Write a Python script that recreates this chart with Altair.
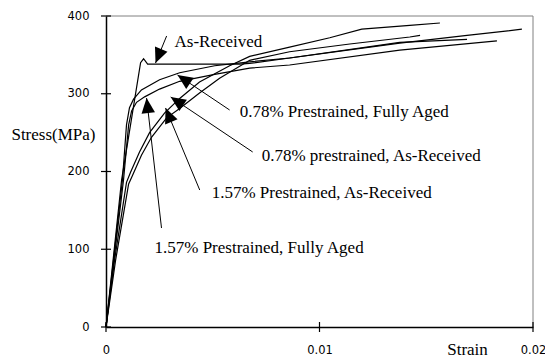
import math

import altair as alt
import pandas as pd

# ---- Stress-strain curves (strain, stress in MPa) ----
as_received_strain = [0, 0.00073, 0.00162, 0.00176, 0.00195, 0.00626, 0.00673, 0.0086, 0.01376, 0.01691]
as_received_stress = [0, 189, 340, 345, 338, 338, 339, 346, 366, 370]

pre078_aged_strain = [0, 0.00077, 0.00096, 0.0011, 0.00129, 0.00166, 0.00251, 0.00345, 0.00509, 0.00673, 0.0086, 0.01376, 0.01691, 0.01948]
pre078_aged_stress = [0, 189, 260, 282, 293, 305, 318, 327, 336, 341, 346, 365, 375, 383]

pre157_aged_strain = [0, 0.00082, 0.00106, 0.0012, 0.00143, 0.00181, 0.00251, 0.00345, 0.00509, 0.00673, 0.0086, 0.01376, 0.01831]
pre157_aged_stress = [0, 189, 260, 278, 289, 296, 306, 316, 325, 333, 337, 356, 368]

pre157_recv_strain = [0, 0.0004, 0.00096, 0.00115, 0.00157, 0.00204, 0.00274, 0.00345, 0.00438, 0.00579, 0.00673, 0.0086, 0.01048, 0.01198, 0.01423, 0.01564]
pre157_recv_stress = [0, 86, 186, 199, 225, 250, 275, 294, 315, 336, 348, 360, 372, 383, 388, 391]

pre078_recv_strain = [0, 0.00045, 0.00106, 0.00124, 0.00166, 0.00213, 0.00284, 0.00345, 0.00438, 0.00532, 0.00673, 0.0086, 0.01142, 0.01423, 0.01471]
pre078_recv_stress = [0, 86, 184, 195, 221, 244, 269, 281, 301, 320, 343, 354, 364, 373, 375]

curves = {
    "As-Received": (as_received_strain, as_received_stress),
    "0.78% Prestrained, Fully Aged": (pre078_aged_strain, pre078_aged_stress),
    "1.57% Prestrained, Fully Aged": (pre157_aged_strain, pre157_aged_stress),
    "1.57% Prestrained, As-Received": (pre157_recv_strain, pre157_recv_stress),
    "0.78% prestrained, As-Received": (pre078_recv_strain, pre078_recv_stress),
}

# ---- Callout labels and their arrows (data units) ----
label_text = [
    "As-Received",
    "0.78% Prestrained, Fully Aged",
    "0.78% prestrained, As-Received",
    "1.57% Prestrained, As-Received",
    "1.57% Prestrained, Fully Aged",
]
label_strain = [0.00321, 0.00626, 0.00729, 0.00495, 0.00227]
label_stress = [366.6, 276.5, 219.9, 172.4, 101.6]

arrow_tail_strain = [0.00284, 0.00579, 0.00687, 0.00439, 0.00260]
arrow_tail_stress = [374.3, 279.1, 225.1, 176.2, 127.3]
arrow_tip_strain = [0.00232, 0.00335, 0.00303, 0.00279, 0.00190]
arrow_tip_stress = [339.5, 324.1, 295.8, 281.7, 294.5]

x_tick_values = [0, 0.01, 0.02]
y_tick_values = [0, 100, 200, 300, 400]

# ---- Layout ----
W, H = 427, 311
X_MAX, Y_MAX = 0.02, 400
TICK_HALF = 5
SERIF = "Liberation Serif"
SANS = "DejaVu Sans"

rows = []
for name, (strain, stress) in curves.items():
    for i, (e, s) in enumerate(zip(strain, stress)):
        rows.append({"curve": name, "order": i, "strain": e, "stress": s})
curve_df = pd.DataFrame(rows)

# arrowhead rotation computed in screen space (0 deg = pointing up, clockwise)
angles = []
for tx, ty, hx, hy in zip(arrow_tail_strain, arrow_tail_stress, arrow_tip_strain, arrow_tip_stress):
    dx = (hx - tx) / X_MAX * W
    dy = -(hy - ty) / Y_MAX * H
    angles.append(math.degrees(math.atan2(dx, -dy)) % 360)

arrow_df = pd.DataFrame({
    "label": label_text,
    "strain": arrow_tail_strain,
    "stress": arrow_tail_stress,
    "tip_strain": arrow_tip_strain,
    "tip_stress": arrow_tip_stress,
    "angle": angles,
})
label_df = pd.DataFrame({"label": label_text, "strain": label_strain, "stress": label_stress})

x_scale = alt.Scale(domain=[0, X_MAX], nice=False)
y_scale = alt.Scale(domain=[0, Y_MAX], nice=False)

x_axis = alt.Axis(
    values=x_tick_values,
    labelExpr="datum.value == 0 ? '0' : format(datum.value, '.2f')",
    title="Strain",
    ticks=False, tickSize=0, grid=False,
    domainColor="black", domainWidth=1.5,
    labelFont=SANS, labelFontSize=11.5, labelColor="black",
    labelPadding=23, labelBaseline="middle", labelFlush=False,
    titleFont=SERIF, titleFontSize=17, titleFontWeight="normal", titleColor="black",
    titleX=361, titleY=22, titleAlign="center", titleBaseline="middle",
    zindex=1,
)
y_axis = alt.Axis(
    values=y_tick_values,
    title="Stress(MPa)",
    ticks=False, tickSize=0, grid=False,
    domainColor="black", domainWidth=1.5,
    labelFont=SANS, labelFontSize=11.5, labelColor="black",
    labelPadding=17,
    titleFont=SERIF, titleFontSize=17, titleFontWeight="normal", titleColor="black",
    titleAngle=0, titleX=-11, titleY=118, titleAlign="right", titleBaseline="middle",
    zindex=1,
)


def xenc(field):
    return alt.X(field, type="quantitative", scale=x_scale, axis=x_axis)


def yenc(field):
    return alt.Y(field, type="quantitative", scale=y_scale, axis=y_axis)


lines = alt.Chart(curve_df).mark_line(color="black", strokeWidth=1.2).encode(
    x=xenc("strain"),
    y=yenc("stress"),
    detail="curve:N",
    order="order:Q",
)

# gray frame on the top and right sides
one = pd.DataFrame({"k": [0]})
top_border = alt.Chart(one).mark_rule(color="#808080", strokeWidth=1).encode(
    x=alt.X(datum=0, type="quantitative", scale=x_scale, axis=x_axis),
    x2=alt.X2(datum=X_MAX),
    y=alt.Y(datum=Y_MAX, type="quantitative", scale=y_scale, axis=y_axis),
)
right_border = alt.Chart(one).mark_rule(color="#808080", strokeWidth=1).encode(
    x=alt.X(datum=X_MAX, type="quantitative", scale=x_scale, axis=x_axis),
    y=alt.Y(datum=0, type="quantitative", scale=y_scale, axis=y_axis),
    y2=alt.Y2(datum=Y_MAX),
)

# tick marks that cross the axis lines
y_ticks = alt.Chart(pd.DataFrame({"stress": y_tick_values})).mark_rule(color="black", strokeWidth=1.2).encode(
    y=yenc("stress"),
    x=alt.value(-TICK_HALF), x2=alt.value(TICK_HALF),
)
x_ticks = alt.Chart(pd.DataFrame({"strain": x_tick_values})).mark_rule(color="black", strokeWidth=1.2).encode(
    x=xenc("strain"),
    y=alt.value(H - TICK_HALF), y2=alt.value(H + TICK_HALF),
)

shafts = alt.Chart(arrow_df).mark_rule(color="black", strokeWidth=1).encode(
    x=xenc("strain"),
    y=yenc("stress"),
    x2="tip_strain:Q",
    y2="tip_stress:Q",
)
heads = alt.Chart(arrow_df).mark_point(
    shape="M0,0L-0.45,1L0.45,1Z", filled=True, color="black", opacity=1, size=900, strokeWidth=0
).encode(
    x=xenc("tip_strain"),
    y=yenc("tip_stress"),
    angle=alt.Angle("angle:Q", scale=None),
)
labels = alt.Chart(label_df).mark_text(
    align="left", baseline="middle", font=SERIF, fontSize=17, color="black"
).encode(
    x=xenc("strain"),
    y=yenc("stress"),
    text="label:N",
)

chart = alt.layer(
    lines, top_border, right_border, shafts, heads, labels, y_ticks, x_ticks
).properties(
    width=W, height=H,
    padding={"left": 106, "top": 16, "right": 12, "bottom": 31},
    autosize="none",
    background="white",
).configure_view(stroke=None)

chart.save("out.html", embed_options={"renderer": "svg", "actions": False})
